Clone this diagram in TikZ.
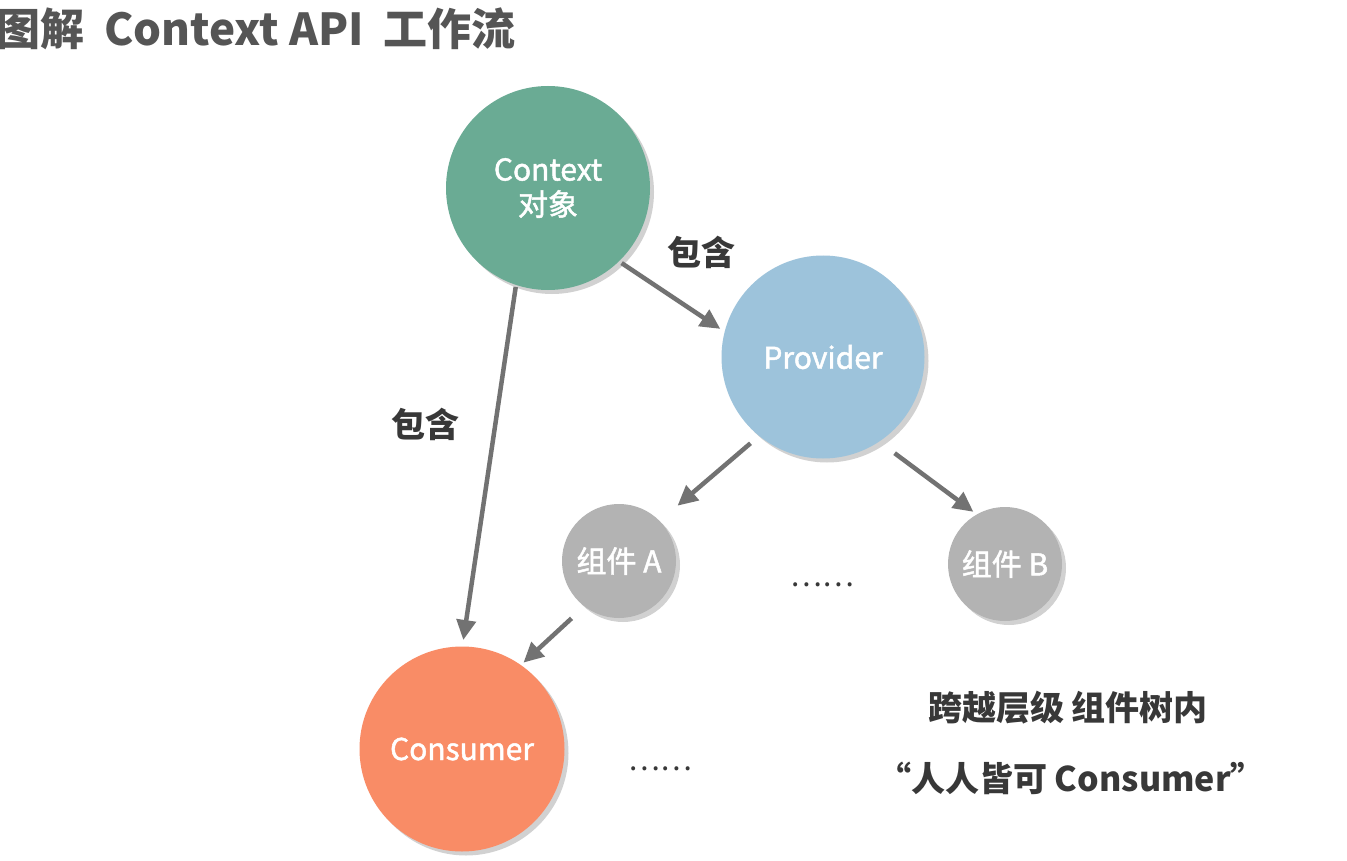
\documentclass[tikz,border=0pt]{standalone}
\usepackage{fontspec}
\setmainfont{Noto Sans CJK SC}
\newfontfamily\nodefont[FakeBold=1.6]{Noto Sans CJK SC}
\usetikzlibrary{arrows.meta,shadows}
\definecolor{ctxgreen}{HTML}{6AAB94}
\definecolor{provblue}{HTML}{9DC3DB}
\definecolor{compgray}{HTML}{B3B3B3}
\definecolor{consorange}{HTML}{F98C66}
\definecolor{arrowgray}{HTML}{727272}
\definecolor{textdark}{HTML}{383838}
\definecolor{titlegray}{HTML}{555555}
\tikzset{
  bubble/.style={circle, inner sep=0pt, text=white, align=center,
    font=\nodefont\fontsize{30}{34}\selectfont,
    drop shadow={shadow xshift=4pt, shadow yshift=-4pt, opacity=0.18, fill=black}},
  conn/.style={draw=arrowgray, line width=4.5pt, -{Triangle[length=20pt,width=19pt]}, shorten >=2pt, shorten <=2pt},
  lbl/.style={text=textdark, font=\fontsize{34}{38}\selectfont\bfseries},
  dots/.style={text=textdark, font=\fontsize{30}{34}\selectfont}
}
\begin{document}
\begin{tikzpicture}[x=1pt,y=-1pt]
\useasboundingbox (0,0) rectangle (1347,861);
\fill[white] (0,0) rectangle (1347,861);
\node[anchor=west, text=titlegray, font=\fontsize{44}{50}\selectfont\bfseries, inner sep=0pt] (title) at (-4,29) {图解\ \ Context API\ \ 工作流};
\node[bubble, fill=ctxgreen, minimum size=204pt] (ctx) at (548,188) {Context\\[1pt]对象};
\node[bubble, fill=provblue, minimum size=203pt] (prov) at (823,357) {Provider};
\node[bubble, fill=compgray, minimum size=114pt] (ca) at (619,561) {组件 A};
\node[bubble, fill=compgray, minimum size=114pt] (cb) at (1005,564) {组件 B};
\node[bubble, fill=consorange, minimum size=205pt] (cons) at (462,749) {Consumer};
\coordinate (p1s) at (620,262); \coordinate (p1e) at (722,330);
\coordinate (p2s) at (516,285); \coordinate (p2e) at (463,642);
\coordinate (p3s) at (752,442); \coordinate (p3e) at (676,507);
\coordinate (p4s) at (893,452); \coordinate (p4e) at (975,513);
\coordinate (p5s) at (573,617); \coordinate (p5e) at (522,664);
\draw[conn] (p1s) -- (p1e);
\draw[conn] (p2s) -- (p2e);
\draw[conn] (p3s) -- (p3e);
\draw[conn] (p4s) -- (p4e);
\draw[conn] (p5s) -- (p5e);
\node[lbl] (l1) at (701,252) {包含};
\node[lbl] (l2) at (425,424) {包含};
\node[dots] (d1) at (822,585) {……};
\node[dots] (d2) at (660,769) {……};
\node[lbl] (t1) at (1068,708) {跨越层级 组件树内};
\node[lbl] (t2) at (1071,778) {“人人皆可 Consumer”};
\end{tikzpicture}
\end{document}
